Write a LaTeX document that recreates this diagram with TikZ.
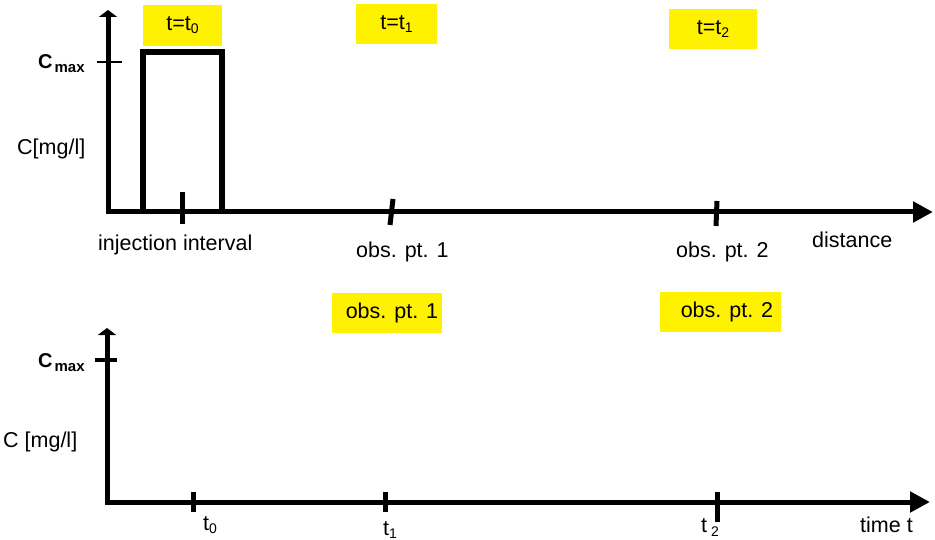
\documentclass[tikz,border=0pt]{standalone}
\usepackage{fontspec}
\setmainfont{Liberation Sans}
\usetikzlibrary{arrows.meta}
\newcommand\mysub[2][-3pt]{\raisebox{#1}{\fontsize{14}{14}\selectfont #2}}
\newcommand\cmaxlabel{{\fontsize{20}{20}\selectfont\bfseries C}\hspace{2pt}\raisebox{-4pt}{\fontsize{15}{15}\selectfont\bfseries max}}
\tikzset{
  txt/.style={inner sep=0pt, font=\fontsize{21.5}{24}\selectfont, anchor=base west},
  ybox/.style={fill=yellow, inner sep=0pt, font=\fontsize{21.5}{24}\selectfont},
  axis/.style={line width=5pt, line join=miter,
     {Triangle[length=7pt,width=18pt]}-{Triangle[length=20pt,width=20pt]}},
  pulse/.style={line width=5.5pt, line join=miter},
  bigtick/.style={line width=5pt},
  thintick/.style={line width=2pt},
  midtick/.style={line width=4pt},
}
\begin{document}
\begin{tikzpicture}[x=1pt,y=-1pt]
\useasboundingbox[fill=white] (0,0) rectangle (935,540);

% ---------- top panel ----------
\coordinate (o1) at (108,212);
\coordinate (y1) at (108,10);
\coordinate (x1) at (933,212);
\draw[axis] (y1) -- (o1) -- (x1);

\coordinate (p1) at (143,212);
\coordinate (p2) at (143,52);
\coordinate (p3) at (222,52);
\coordinate (p4) at (222,212);
\draw[pulse] (p1) -- (p2) -- (p3) -- (p4);

\coordinate (ia) at (182,192); \coordinate (ib) at (182,224);
\draw[bigtick] (ia) -- (ib);
\coordinate (oa) at (393,199); \coordinate (ob) at (390,225);
\draw[bigtick] (oa) -- (ob);
\coordinate (qa) at (717,201); \coordinate (qb) at (716,226);
\draw[bigtick] (qa) -- (qb);
\coordinate (ca) at (97,62); \coordinate (cb) at (122,62);
\draw[thintick] (ca) -- (cb);

\node[txt] (cmax1) at (38,69) {\cmaxlabel};
\node[txt] (cu1) at (17,155) {C[mg/l]};
\node[txt] (inj) at (98,251) {injection interval};
\node[txt] (op1) at (356,258) {obs. pt. 1};
\node[txt] (op2) at (676,258) {obs. pt. 2};
\node[txt] (dist) at (812,248) {distance};

\node[ybox, minimum width=79pt, minimum height=41pt] (tb0) at (182.5,25.5) {t=t\mysub{0}};
\node[ybox, minimum width=81pt, minimum height=40pt] (tb1) at (396.5,24) {t=t\mysub{1}};
\node[ybox, minimum width=88pt, minimum height=40pt] (tb2) at (713,29) {t=t\mysub{2}};

% ---------- bottom panel ----------
\coordinate (o2) at (107,502);
\coordinate (y2) at (107,328);
\coordinate (x2) at (930,502);
\draw[axis] (y2) -- (o2) -- (x2);

\coordinate (da) at (95,360); \coordinate (db) at (117,360);
\draw[midtick] (da) -- (db);
\coordinate (t0a) at (193,492); \coordinate (t0b) at (193,512);
\draw[bigtick] (t0a) -- (t0b);
\coordinate (t1a) at (385,492); \coordinate (t1b) at (385,512);
\draw[bigtick] (t1a) -- (t1b);
\coordinate (t2a) at (717,492); \coordinate (t2b) at (717,522);
\draw[bigtick] (t2a) -- (t2b);

\node[txt] (cmax2) at (38,367) {\cmaxlabel};
\node[txt] (cu2) at (3,447) {C [mg/l]};
\node[txt] (lt0) at (203,530) {t\mysub{0}};
\node[txt] (lt1) at (383,535) {t\mysub{1}};
\node[txt] (lt2) at (701,532) {t\hspace{4pt}\mysub[-4pt]{2}};
\node[txt] (ltime) at (860,532) {time t};

\node[ybox, minimum width=110pt, minimum height=40pt] (ob1) at (387,313) {\hspace{10pt}obs. pt. 1};
\node[ybox, minimum width=121pt, minimum height=40pt] (ob2) at (720.5,312) {\hspace{13pt}obs. pt. 2};
\end{tikzpicture}
\end{document}
